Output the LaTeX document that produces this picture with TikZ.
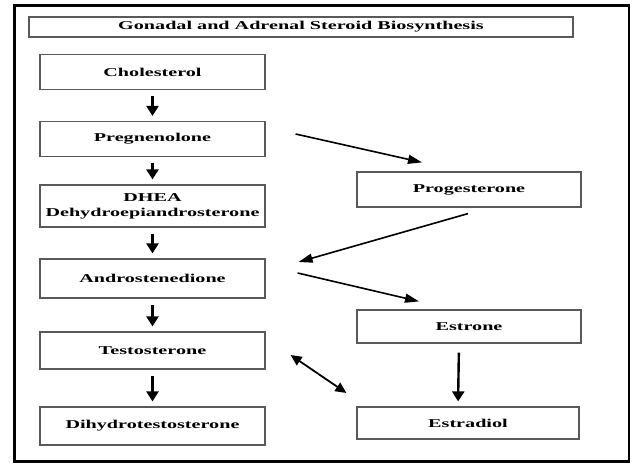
\documentclass[tikz,border=0pt]{standalone}
\usepackage{fontspec}
\setmainfont[FakeStretch=1.68]{Liberation Serif}
\usetikzlibrary{arrows.meta}

\begin{document}
\begin{tikzpicture}[x=1pt, y=-1pt,
    stage/.style={draw=black!65, line width=1.2pt, minimum width=225pt, minimum height=35pt,
      inner sep=0pt, align=center, font=\fontsize{12}{15}\selectfont\bfseries},
    down/.style={line width=2.4pt, -{Triangle[length=10pt,width=12pt]}, shorten <=6pt, shorten >=5pt},
    slant/.style={line width=1.6pt, -{Triangle[length=14pt,width=9pt]}},
    both/.style={line width=1.8pt, {Triangle[length=11pt,width=10pt]}-{Triangle[length=11pt,width=10pt]}}]
  \useasboundingbox (0,0) rectangle (632,465);

  % Frame and title
  \draw[line width=2.6pt] (14.5,5.5) rectangle (629,461.5);
  \node[stage, minimum width=544pt, minimum height=20pt] (title) at (301,27) {Gonadal and Adrenal Steroid Biosynthesis};

  % Left column
  \node[stage] (chol) at (152.5,72) {Cholesterol};
  \node[stage] (preg) at (152.5,139) {Pregnenolone};
  \node[stage, minimum height=42pt] (dhea) at (152.5,206) {DHEA\\Dehydroepiandrosterone};
  \node[stage, minimum height=39pt] (andro) at (152.5,278.5) {Androstenedione};
  \node[stage, minimum height=37pt] (testo) at (152.5,350.5) {Testosterone};
  \node[stage, minimum height=38pt] (dht) at (152.5,426) {Dihydrotestosterone};

  % Right column
  \node[stage, minimum width=224pt] (prog) at (469,189.5) {Progesterone};
  \node[stage, minimum width=224pt, minimum height=33pt] (estrone) at (469,326.5) {Estrone};
  \node[stage, minimum width=222pt, minimum height=32pt] (estradiol) at (468,423) {Estradiol};

  \foreach \a/\b in {chol/preg, preg/dhea, dhea/andro, andro/testo, testo/dht}
    \draw[down] (\a) -- (\b);
  \draw[down, shorten <=9pt] ([xshift=-10pt]estrone.south) -- ([xshift=-10pt]estradiol.north);

  % Cross arrows
  \draw[slant] ([shift={(30,-5)}]preg.east) -- ([shift={(-47,-9)}]prog.north);
  \draw[slant] ([shift={(-1,6)}]prog.south) -- ([shift={(33,-16.5)}]andro.east);
  \draw[slant] ([shift={(32,-5.5)}]andro.east) -- ([shift={(-50,-8)}]estrone.north);
  \draw[both] ([shift={(25,4.5)}]testo.east) -- ([shift={(-10,-30)}]estradiol.west);
\end{tikzpicture}
\end{document}
